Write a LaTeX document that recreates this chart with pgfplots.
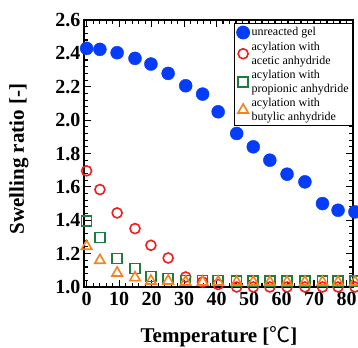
\documentclass[border=0pt]{standalone}
\usepackage{pgfplots}
\pgfplotsset{compat=1.18}
\usepackage{fontspec}
\setmainfont{Liberation Serif}
\newfontfamily\cjk{Noto Sans CJK JP}
\definecolor{cblue}{RGB}{5,60,250}
\definecolor{cred}{RGB}{240,30,30}
\definecolor{cgreen}{RGB}{30,125,60}
\definecolor{corange}{RGB}{245,130,30}
\begin{document}
\begin{tikzpicture}
\begin{axis}[
  name=ax,
  scale only axis,
  width=269pt, height=267pt,
  xmin=-0.8, xmax=82, ymin=1.0, ymax=2.6,
  clip=false,
  axis line style={line width=1.4pt},
  tick style={line width=1.1pt, black},
  tick align=inside,
  major tick length=7pt, minor tick length=4pt,
  xtick={0,10,...,80}, minor x tick num=4,
  ytick={1.0,1.2,...,2.61}, minor y tick num=4,
  /pgf/number format/assume math mode=true,
  yticklabel style={/pgf/number format/.cd, fixed, fixed zerofill, precision=1},
  ticklabel style={font=\bfseries\fontsize{20}{24}\selectfont},
  xticklabel style={yshift=-2pt},
  every axis y label/.style={at={(axis description cs:-0.242,0.479)},rotate=90,anchor=center},
  every axis x label/.style={at={(axis description cs:0.502,-0.185)},anchor=center},
  ylabel={\bfseries\fontsize{21}{24}\selectfont Swelling ratio [-]},
  xlabel={\bfseries\fontsize{21}{24}\selectfont Temperature [{\cjk\mdseries ℃}]},
  legend style={at={(axis description cs:1,0.988)}, anchor=north east, draw=black, line width=0.8pt,
    font=\fontsize{12}{13.8}\selectfont, cells={align=left, anchor=west}, inner xsep=2pt, inner ysep=2pt, row sep=0.5pt},
  legend cell align=left,
]
\addplot[only marks, mark=*, mark size=6.5pt, color=cblue, mark options={fill=cblue, draw=cblue}] coordinates {
(0,2.430) (4.1,2.424) (9.4,2.404) (14.9,2.370) (19.8,2.336) (25.1,2.280) (30.5,2.206) (35.7,2.156)
(40.5,2.050) (46.2,1.920) (51.3,1.840) (56.4,1.760) (61.7,1.676) (67.2,1.630) (72.6,1.500) (77.4,1.460) (82.6,1.450)};
\addlegendentry{unreacted gel}
\addplot[only marks, mark=o, mark size=5pt, color=cred, mark options={line width=1.6pt, fill=white}] coordinates {
(0,1.696) (4.1,1.584) (9.4,1.444) (14.9,1.350) (19.8,1.250) (25.1,1.174) (30.5,1.060) (35.7,1.030)
(40.5,1.015) (46.2,1.0) (51.3,1.0) (56.4,1.0) (61.7,1.0) (67.2,1.0) (72.6,1.0) (77.4,1.0) (82.6,1.0)};
\addlegendentry{acylation with\\acetic anhydride}
\addplot[only marks, mark=square, mark size=5pt, color=cgreen, mark options={line width=1.6pt, fill=white}] coordinates {
(0,1.396) (4.1,1.296) (9.4,1.170) (14.9,1.110) (19.8,1.064) (25.1,1.050) (30.5,1.040) (35.7,1.040)
(40.5,1.040) (46.2,1.035) (51.3,1.035) (56.4,1.035) (61.7,1.035) (67.2,1.035) (72.6,1.035) (77.4,1.035) (82.6,1.035)};
\addlegendentry{acylation with\\propionic anhydride}
\addplot[only marks, mark=triangle, mark size=6pt, color=corange, mark options={line width=1.6pt, fill=white}] coordinates {
(0,1.244) (4.1,1.160) (9.4,1.084) (14.9,1.056) (19.8,1.036) (25.1,1.036) (30.5,1.030) (35.7,1.030)
(40.5,1.030) (46.2,1.030) (51.3,1.030) (56.4,1.030) (61.7,1.030) (67.2,1.030) (72.6,1.030) (77.4,1.030) (82.6,1.030)};
\addlegendentry{acylation with\\butylic anhydride}
\end{axis}
\pgfresetboundingbox
\path[use as bounding box] ([shift={(-84pt,-61pt)}]ax.south west) rectangle ([shift={(5pt,20pt)}]ax.north east);
\end{tikzpicture}
\end{document}
